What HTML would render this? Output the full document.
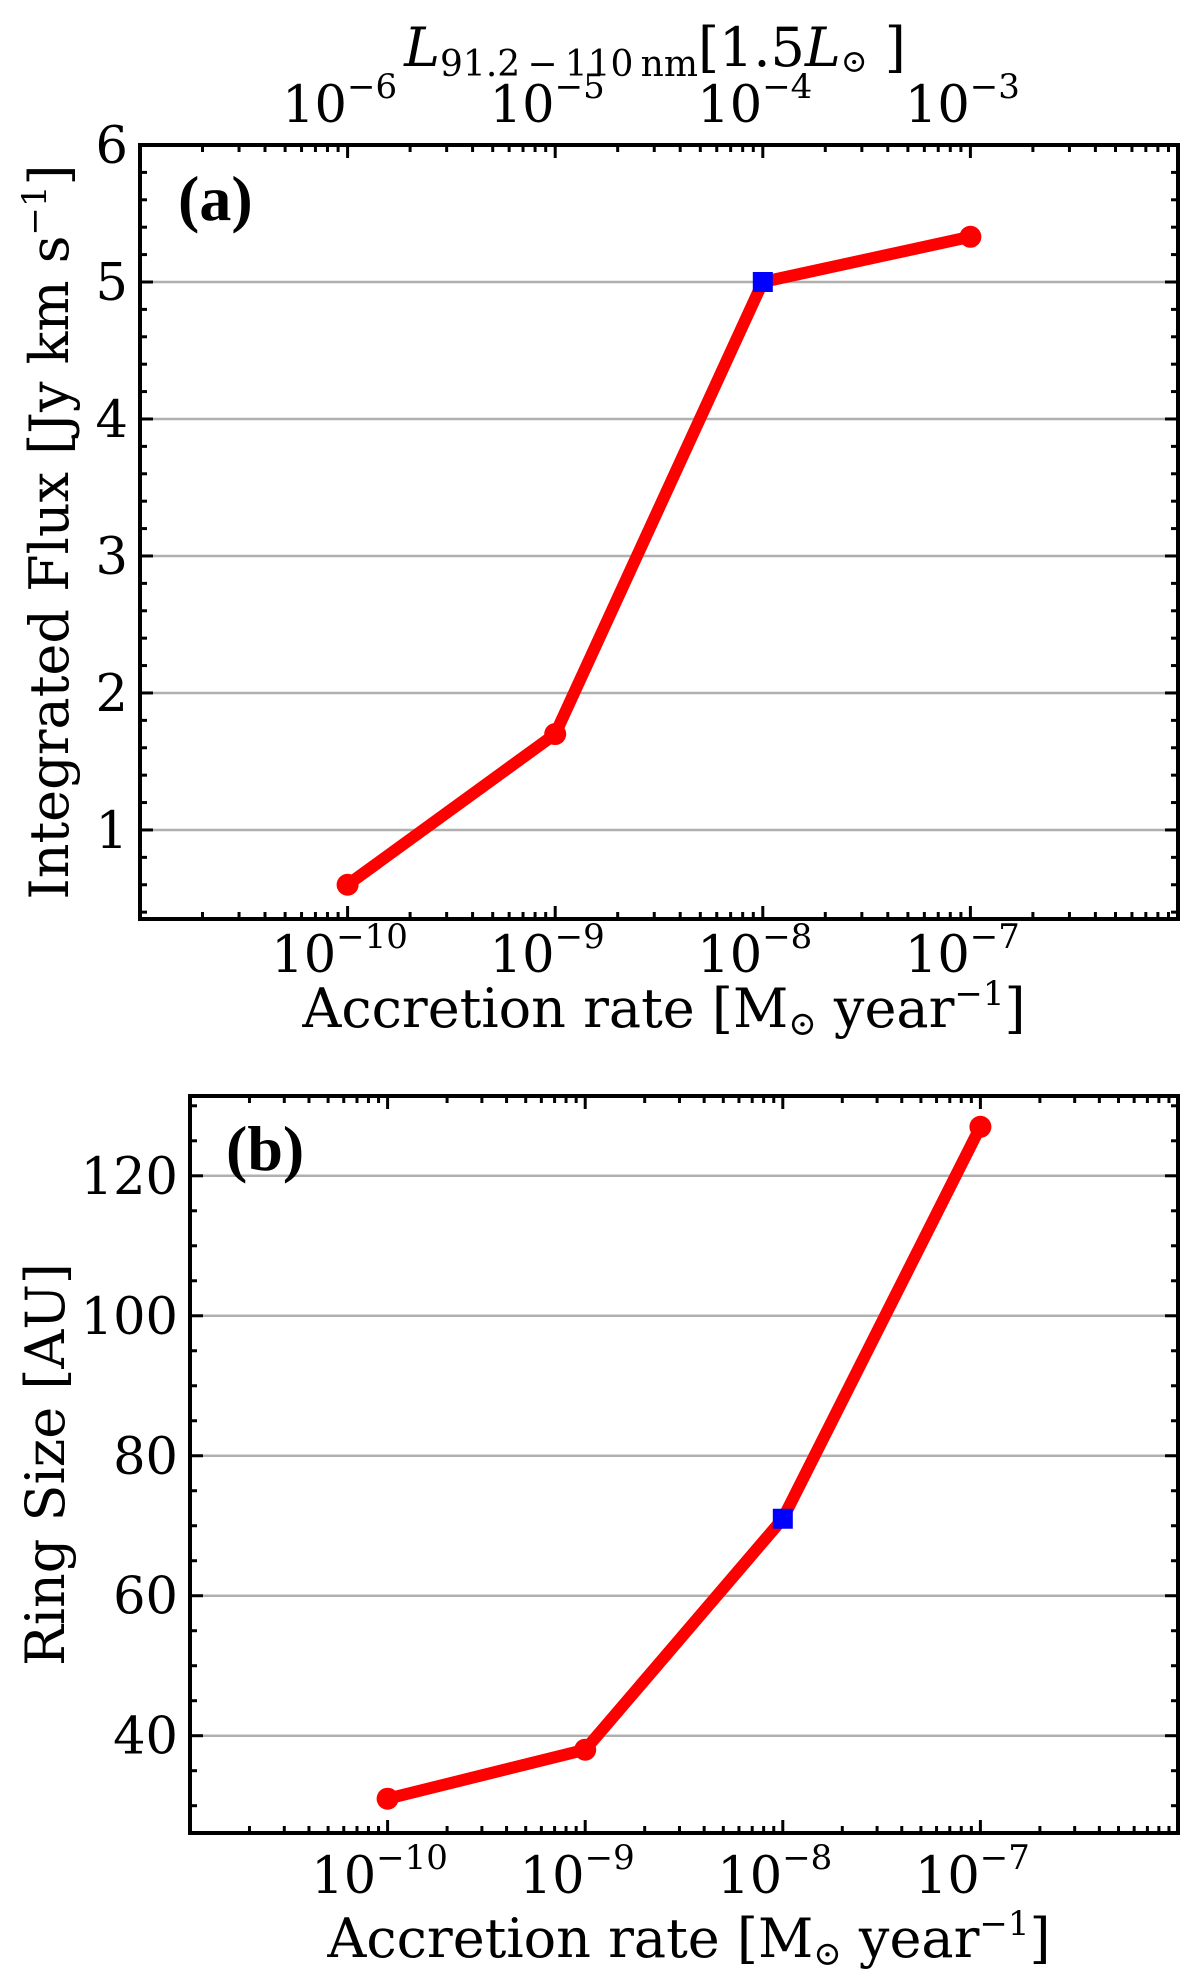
<!DOCTYPE html>
<html><head><meta charset="utf-8"><style>
html,body{margin:0;padding:0;background:#fff;}
svg{display:block;}
text{font-family:"DejaVu Serif","Liberation Serif",serif;fill:#000;}
</style></head><body>
<svg id="fig" width="1200" height="1979" viewBox="0 0 1200 1979" xmlns="http://www.w3.org/2000/svg"></svg>
<script>
// ---- data ----
const accretionExp = [-10, -9, -8, -7];
const fluxValues = [0.6, 1.7, 5.0, 5.33];
const ringValues = [31, 38, 71, 127];
const highlightIndex = 2;
const xTickExps = [-10, -9, -8, -7];
const topTickLabels = ["-6", "-5", "-4", "-3"];
const fluxTicks = [1, 2, 3, 4, 5, 6];
const ringTicks = [40, 60, 80, 100, 120];

const NS = "http://www.w3.org/2000/svg";
const svg = document.getElementById('fig');
function mk(tag, attrs, parent) {
  const e = document.createElementNS(NS, tag);
  for (const k in attrs) e.setAttribute(k, attrs[k]);
  (parent || svg).appendChild(e);
  return e;
}

function panel(cfg) {
  const g = mk('g', {});
  
  
  const L = cfg.left, R = cfg.right, T = cfg.top, B = cfg.bottom;
  const xs = e => L + (e - (-11)) / 5 * (R - L);
  const ys = v => B - (v - cfg.ymin) / (cfg.ymax - cfg.ymin) * (B - T);

  cfg.yticks.forEach(v => {
    if (v >= cfg.ymax) return;
    const l = mk('line', {x1: L, x2: R, y1: ys(v), y2: ys(v), stroke: '#b0b0b0', 'stroke-width': 2.5}, g);
    
    
  });

  const tk = mk('g', {stroke: '#000', 'stroke-width': 3}, g);
  
  
  for (let d = -11; d < -6; d++) {
    for (let m = 1; m <= 9; m++) {
      const e = d + Math.log10(m);
      const x = xs(e);
      const len = m === 1 ? 13 : 7;
      if (m === 1 && d === -11) continue;
      mk('line', {x1: x, x2: x, y1: B, y2: B - len}, tk);
      mk('line', {x1: x, x2: x, y1: T, y2: T + len}, tk);
    }
  }
  const start = Math.ceil(cfg.ymin / cfg.minor) * cfg.minor;
  for (let v = start; v <= cfg.ymax + 1e-9; v += cfg.minor) {
    const vv = Math.round(v * 1000) / 1000;
    const major = cfg.yticks.some(t => Math.abs(t - vv) < 1e-6);
    const len = major ? 13 : 7;
    mk('line', {x1: L, x2: L + len, y1: ys(vv), y2: ys(vv)}, tk);
    mk('line', {x1: R, x2: R - len, y1: ys(vv), y2: ys(vv)}, tk);
  }

  const fr = mk('rect', {x: L, y: T, width: R - L, height: B - T, fill: 'none', stroke: '#000', 'stroke-width': 4}, g);
  
  

  cfg.yticks.forEach(v => {
    const t = mk('text', {x: L - 12, y: ys(v) + 18, 'text-anchor': 'end', 'font-size': 51}, g);
    t.textContent = v;
    
    
  });
  xTickExps.forEach(e => {
    const t = mk('text', {x: xs(e) - 8, y: cfg.xlabY, 'text-anchor': 'middle', 'font-size': 51}, g);
    t.textContent = '10';
    const s = mk('tspan', {'font-size': 34, dy: -24}, t);
    s.textContent = '\u2212' + (-e);
    
    
  });
  const xt = mk('text', {x: (L + R) / 2 + 5, y: cfg.xtitleY, 'text-anchor': 'middle', 'font-size': 54}, g);
  xt.innerHTML = 'Accretion rate [M<tspan font-size="34" dy="8">\u2299</tspan><tspan dy="-8"> year</tspan><tspan font-size="34" dy="-22">\u22121</tspan><tspan dy="22">]</tspan>';
  
  
  const yt = mk('text', {x: 0, y: 0, 'text-anchor': 'middle', 'font-size': 54, transform: `translate(${cfg.ytitleX},${(T + B) / 2}) rotate(-90)`}, g);
  yt.innerHTML = cfg.ytitle;
  
  
  const pt = mk('text', {x: cfg.tagX, y: cfg.tagY, 'font-size': 64, 'font-weight': 'bold', style: 'font-family:"Liberation Serif",serif'}, g);
  pt.textContent = cfg.tag;
  
  

  const pts = accretionExp.map((e, i) => [xs(e), ys(cfg.values[i])]);
  const pl = mk('polyline', {points: pts.map(p => p.join(',')).join(' '), fill: 'none', stroke: '#ff0000', 'stroke-width': 12, 'stroke-linejoin': 'round'}, g);
  
  
  pts.forEach((p, i) => {
    if (i === highlightIndex) return;
    const c = mk('circle', {cx: p[0], cy: p[1], r: 11, fill: '#ff0000'}, g);
    
    
  });
  const hp = pts[highlightIndex];
  const sq = mk('rect', {x: hp[0] - 10, y: hp[1] - 10, width: 20, height: 20, fill: '#0000ff'}, g);
  
  
  return xs;
}

const xsA = panel({name: 'panel-a-flux', left: 140, right: 1178, top: 145, bottom: 919,
  ymin: 0.35, ymax: 6, yticks: fluxTicks, minor: 0.2, values: fluxValues,
  xlabY: 972, xtitleY: 1027, ytitleX: 68, tag: '(a)', tagX: 178, tagY: 220,
  ytitle: 'Integrated Flux [Jy km s<tspan font-size="34" dy="-22">\u22121</tspan><tspan dy="22">]</tspan>'});

topTickLabels.forEach((lab, i) => {
  const t = mk('text', {x: xsA(xTickExps[i]) - 8, y: 122, 'text-anchor': 'middle', 'font-size': 51});
  t.textContent = '10';
  const s = mk('tspan', {'font-size': 34, dy: -24}, t);
  s.textContent = '\u2212' + lab.replace('-', '');
  
  
});
const tt = mk('text', {x: 655, y: 66, 'text-anchor': 'middle', 'font-size': 54});
tt.innerHTML = '<tspan font-style="italic">L</tspan><tspan font-size="36" dy="10">91.2\u2009\u2212\u2009110\u2009nm</tspan><tspan dy="-10">[1.5</tspan><tspan font-style="italic">L</tspan><tspan font-size="32" dy="6">\u2299</tspan><tspan dy="-6"> ]</tspan>';



panel({name: 'panel-b-ring-size', left: 190, right: 1178, top: 1096, bottom: 1833,
  ymin: 26.1, ymax: 131.4, yticks: ringTicks, minor: 5, values: ringValues,
  xlabY: 1893, xtitleY: 1957, ytitleX: 64, tag: '(b)', tagX: 226, tagY: 1170,
  ytitle: 'Ring Size [AU]'});
</script>
</body></html>
